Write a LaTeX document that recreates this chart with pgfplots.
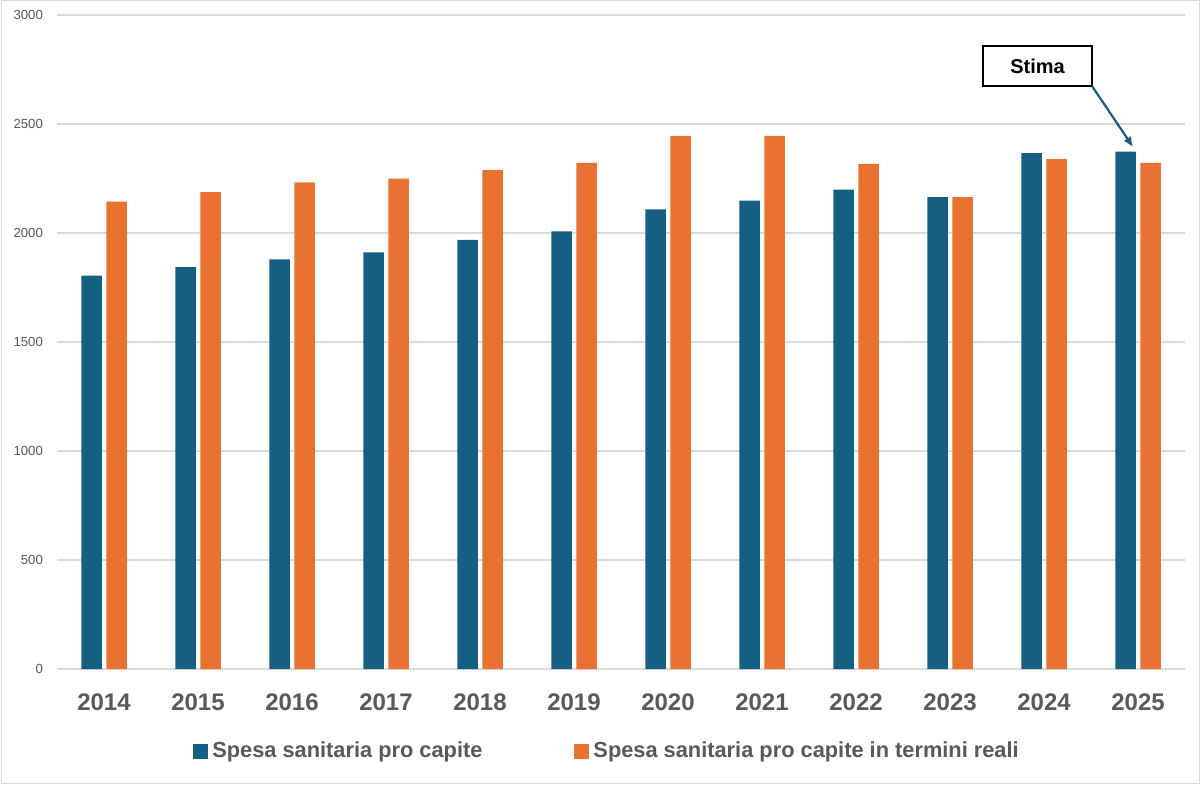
\documentclass[border=0pt]{standalone}
\usepackage{pgfplots}
\pgfplotsset{compat=1.18}
\usepackage{fontspec}
\setmainfont{Liberation Sans}
\usetikzlibrary{arrows.meta}
\definecolor{cblue}{HTML}{156082}
\definecolor{corange}{HTML}{E97132}
\definecolor{cgrid}{HTML}{D9D9D9}
\definecolor{ctext}{HTML}{595959}
\definecolor{carrow}{HTML}{1B5A78}
\begin{document}
\begin{tikzpicture}
\useasboundingbox (0,0) rectangle (600pt,392pt);
\draw[cgrid, line width=0.5pt] (0.5pt,0.5pt) rectangle (599.5pt,391.5pt);
\begin{axis}[
  at={(28.5pt,57.5pt)}, anchor=south west,
  scale only axis, width=564pt, height=327pt,
  ybar=2.25pt, bar width=10.25pt,
  xmin=-0.5, xmax=11.5, ymin=0, ymax=3000,
  xtick=data,
  xticklabels={2014,2015,2016,2017,2018,2019,2020,2021,2022,2023,2024,2025},
  ytick={0,500,1000,1500,2000,2500,3000},
  ymajorgrids, grid style={cgrid, line width=0.6pt},
  axis line style={draw=none},
  major tick length=0pt,
  /pgf/number format/assume math mode=true,
  scaled y ticks=false,
  yticklabel style={font=\fontsize{6.6}{7}\selectfont, text=ctext, xshift=-3.5pt},
  xticklabel style={font=\fontsize{12}{13}\selectfont\bfseries, text=ctext, yshift=-9pt},
  yticklabel={\pgfmathprintnumber[fixed,precision=0,1000 sep={}]{\tick}},
  legend style={at={(axis description cs:0.4885,-0.1254)}, anchor=center, draw=none,
    font=\fontsize{10.9}{12}\selectfont\bfseries, text=ctext, legend columns=2,
    /tikz/every even column/.append style={column sep=44pt}},
  legend image code/.code={\fill[#1] (-1pt,-3.75pt) rectangle (6.5pt,3.75pt);},
]
\addplot[fill=cblue, draw=none] coordinates {
 (0,1804) (1,1844) (2,1879) (3,1911) (4,1968) (5,2007)
 (6,2108) (7,2148) (8,2199) (9,2165) (10,2367) (11,2373)};
\addlegendentry{Spesa sanitaria pro capite}
\addplot[fill=corange, draw=none] coordinates {
 (0,2144) (1,2188) (2,2232) (3,2249) (4,2289) (5,2322)
 (6,2446) (7,2446) (8,2317) (9,2165) (10,2339) (11,2322)};
\addlegendentry{Spesa sanitaria pro capite in termini reali}
\end{axis}
\node[draw=black, line width=0.6pt, minimum width=54.5pt, minimum height=20pt, inner sep=0pt,
  font=\fontsize{10}{11}\selectfont\bfseries] at (518.75pt,359pt) {Stima};
\draw[carrow, line width=1.1pt, -{Latex[length=5pt,width=4.5pt]}] (546pt,349pt) -- (566.5pt,318.5pt);
\end{tikzpicture}
\end{document}
